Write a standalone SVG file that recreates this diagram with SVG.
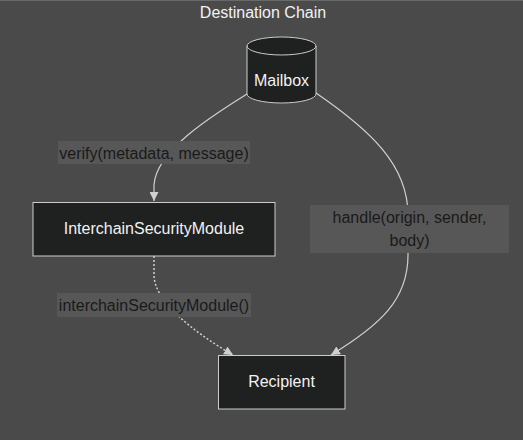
<svg xmlns="http://www.w3.org/2000/svg" width="523" height="440" viewBox="0 0 523 440">
<style>
.bg{fill:#4a4a4a}
.frame{fill:#4a4a4a;stroke:#6a6a6a;stroke-width:1}
.node{fill:#1f2020;stroke:#cccccc;stroke-width:1}
.ntext{font-family:"Liberation Sans",Arial,sans-serif;font-size:16px;fill:#f2f2f2;text-anchor:middle;dominant-baseline:central}
.title{font-family:"Liberation Sans",Arial,sans-serif;font-size:16px;fill:#f2f2f2;text-anchor:middle;dominant-baseline:central}
.edge{fill:none;stroke:#d0d0d0;stroke-width:1.2}
.dotted{stroke-dasharray:2 2;stroke-width:1.5}
.lbg{fill:#575757}
.ltext{font-family:"Liberation Sans",Arial,sans-serif;font-size:16px;fill:#1a1a1a;text-anchor:middle;dominant-baseline:central}
</style>
<defs>
<marker id="arrow" viewBox="0 0 10 10" refX="10" refY="5" markerWidth="9" markerHeight="9" markerUnits="userSpaceOnUse" orient="auto">
<path d="M0,0 L10,5 L0,10 z" fill="#d0d0d0"/>
</marker>
</defs>
<rect class="bg" x="0" y="0" width="523" height="440"/>
<rect class="frame" x="-1" y="0.5" width="525" height="441"/>
<text class="title" x="263" y="12">Destination Chain</text>
<g id="connectors">
<path class="edge" d="M247,94 C215,114 156,150 154,185 L154,201" marker-end="url(#arrow)"/>
<path class="edge" d="M316,93 C370,130 408,165 408,215 L408,255 C408,300 380,325 331,355" marker-end="url(#arrow)"/>
<path class="edge dotted" d="M154,256 L154,275 C154,300 190,330 233,355" marker-end="url(#arrow)"/>
</g>
<g id="label-verify">
<rect class="lbg" x="58" y="141" width="192" height="23"/>
<text class="ltext" x="154" y="153">verify(metadata, message)</text>
</g>
<g id="label-handle">
<rect class="lbg" x="310" y="205" width="199" height="48"/>
<text class="ltext" x="409.5" y="217">handle(origin, sender,</text>
<text class="ltext" x="409.5" y="240">body)</text>
</g>
<g id="label-ism">
<rect class="lbg" x="57" y="293" width="194" height="24"/>
<text class="ltext" x="154" y="305.5">interchainSecurityModule()</text>
</g>
<g id="Mailbox">
<path class="node" d="M247,46 A34.5,9 0 0 1 316,46 L316,94 A34.5,9 0 0 1 247,94 Z"/>
<path class="node" fill="none" d="M247,46 A34.5,9 0 0 0 316,46" style="fill:none"/>
<text class="ntext" x="281.5" y="80">Mailbox</text>
</g>
<g id="InterchainSecurityModule">
<rect class="node" x="33" y="202.5" width="242" height="53.5"/>
<text class="ntext" x="154" y="228.5">InterchainSecurityModule</text>
</g>
<g id="Recipient">
<rect class="node" x="218.5" y="355.5" width="126.5" height="53.5"/>
<text class="ntext" x="281.5" y="381.5">Recipient</text>
</g>
</svg>
